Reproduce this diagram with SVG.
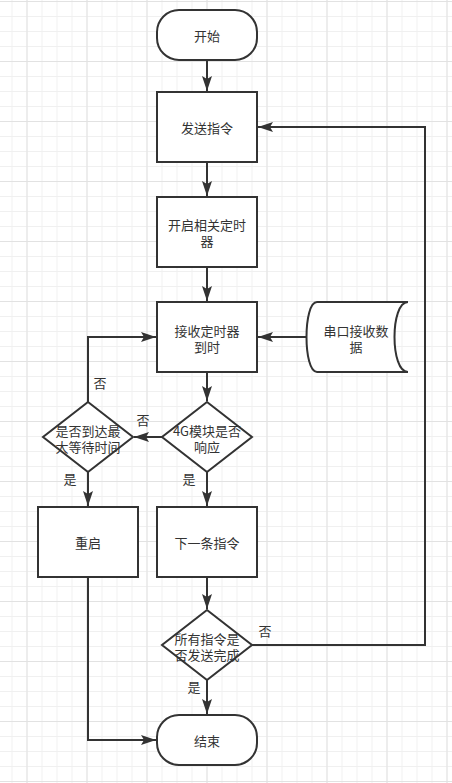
<svg xmlns="http://www.w3.org/2000/svg" width="452" height="783" viewBox="0 0 452 783">
<defs>
<pattern id="minor" x="11.5" y="1" width="15" height="15" patternUnits="userSpaceOnUse">
<path d="M0,0.5 H15 M0.5,0 V15" fill="none" stroke="#f0f0f0" stroke-width="1"/>
</pattern>
<pattern id="major" x="26.5" y="1" width="60" height="60" patternUnits="userSpaceOnUse">
<path d="M0,0.5 H60 M0.5,0 V60" fill="none" stroke="#e2e2e2" stroke-width="1"/>
</pattern>
<marker id="arr" markerWidth="16" markerHeight="12" refX="15" refY="6" orient="auto" markerUnits="userSpaceOnUse">
<path d="M0,1 L15,6 L0,11 L3,6 Z" fill="#333"/>
</marker>
</defs>
<style>
.s{fill:#fff;stroke:#333;stroke-width:2}
.c{fill:none;stroke:#333;stroke-width:2}
text{font-family:"Microsoft YaHei","Noto Sans CJK SC","Liberation Sans",sans-serif;font-size:13px;fill:#333;text-anchor:middle;dominant-baseline:central}
</style>
<rect width="452" height="783" fill="#fff"/>
<rect width="452" height="783" fill="url(#minor)"/>
<rect width="452" height="783" fill="url(#major)"/>

<g id="connectors">
<path class="c" d="M207,60 V91" marker-end="url(#arr)"/>
<path class="c" d="M207,162 V196" marker-end="url(#arr)"/>
<path class="c" d="M207,267 V301" marker-end="url(#arr)"/>
<path class="c" d="M307,337 H258" marker-end="url(#arr)"/>
<path class="c" d="M207,372 V401" marker-end="url(#arr)"/>
<path class="c" d="M162,437 H134" marker-end="url(#arr)"/>
<path class="c" d="M88,402 V337 H156" marker-end="url(#arr)"/>
<path class="c" d="M88,472 V506" marker-end="url(#arr)"/>
<path class="c" d="M207,472 V506" marker-end="url(#arr)"/>
<path class="c" d="M207,577 V609" marker-end="url(#arr)"/>
<path class="c" d="M252,645 H425 V127 H258" marker-end="url(#arr)"/>
<path class="c" d="M207,680 V714" marker-end="url(#arr)"/>
<path class="c" d="M88,577 V740 H156" marker-end="url(#arr)"/>
<text x="143" y="419">否</text>
<text x="100" y="382">否</text>
<text x="70" y="478">是</text>
<text x="189" y="478">是</text>
<text x="265" y="630">否</text>
<text x="194" y="686">是</text>
</g>

<g id="start">
<rect class="s" x="157" y="10" width="100" height="50" rx="22" ry="22"/>
<text x="207" y="35">开始</text>
</g>
<g id="send">
<rect class="s" x="157" y="92" width="100" height="70"/>
<text x="207" y="127">发送指令</text>
</g>
<g id="timer">
<rect class="s" x="157" y="197" width="100" height="70"/>
<text x="207" y="224">开启相关定时</text>
<text x="207" y="240">器</text>
</g>
<g id="recv">
<rect class="s" x="157" y="302" width="100" height="70"/>
<text x="207" y="330">接收定时器</text>
<text x="207" y="346">到时</text>
</g>
<g id="serial">
<path class="s" d="M317,302 H408 C390,302 390,372 408,372 H317 C303,372 303,302 317,302 Z"/>
<text x="356" y="330">串口接收数</text>
<text x="356" y="346">据</text>
</g>
<g id="resp">
<path class="s" d="M207,402 L252,437 L207,472 L162,437 Z"/>
<text x="207" y="430">4G模块是否</text>
<text x="207" y="446">响应</text>
</g>
<g id="wait">
<path class="s" d="M88,402 L133,437 L88,472 L43,437 Z"/>
<text x="88" y="430">是否到达最</text>
<text x="88" y="446">大等待时间</text>
</g>
<g id="restart">
<rect class="s" x="38" y="507" width="100" height="70"/>
<text x="88" y="542">重启</text>
</g>
<g id="next">
<rect class="s" x="157" y="507" width="100" height="70"/>
<text x="207" y="542">下一条指令</text>
</g>
<g id="all">
<path class="s" d="M207,610 L252,645 L207,680 L162,645 Z"/>
<text x="207" y="638">所有指令是</text>
<text x="207" y="654">否发送完成</text>
</g>
<g id="end">
<rect class="s" x="157" y="715" width="100" height="50" rx="22" ry="22"/>
<text x="207" y="740">结束</text>
</g>
</svg>
